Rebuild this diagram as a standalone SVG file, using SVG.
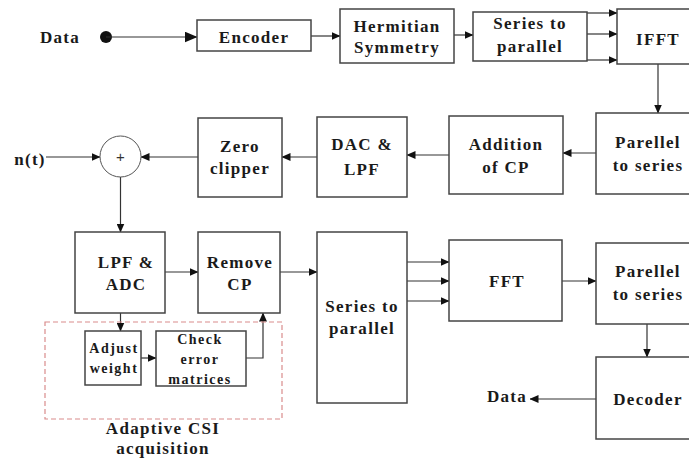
<svg xmlns="http://www.w3.org/2000/svg" width="689" height="458" viewBox="0 0 689 458">
<style>
.box{fill:#fff;stroke:#444;stroke-width:1.5}
.t{font-family:"Liberation Serif","DejaVu Serif",serif;font-weight:700;font-size:17px;letter-spacing:1.3px;fill:#1a1a1a;text-anchor:middle}
.s{font-size:14px;letter-spacing:1.5px}
.ln{fill:none;stroke:#333;stroke-width:1.2}
</style>
<defs>
<marker id="ah" markerWidth="9" markerHeight="8" refX="8.5" refY="4" orient="auto" markerUnits="userSpaceOnUse">
<path d="M0,0 L9,4 L0,8 Z" fill="#111"/>
</marker>
<marker id="ahL" markerWidth="13" markerHeight="11" refX="12.5" refY="5.5" orient="auto" markerUnits="userSpaceOnUse">
<path d="M0,0 L13,5.5 L0,11 Z" fill="#111"/>
</marker>
</defs>
<rect width="689" height="458" fill="#fff"/>

<g id="connectors">
<circle cx="106" cy="37" r="6" fill="#111"/>
<line class="ln" x1="106" y1="37" x2="197" y2="37" marker-end="url(#ahL)"/>
<line class="ln" x1="311" y1="36" x2="340" y2="36" marker-end="url(#ah)"/>
<line class="ln" x1="454" y1="35" x2="473" y2="35" marker-end="url(#ah)"/>
<line class="ln" x1="587" y1="13" x2="617" y2="13" marker-end="url(#ah)"/>
<line class="ln" x1="587" y1="34" x2="617" y2="34" marker-end="url(#ah)"/>
<line class="ln" x1="587" y1="60" x2="617" y2="60" marker-end="url(#ah)"/>
<line class="ln" x1="658" y1="64" x2="658" y2="113" marker-end="url(#ah)"/>
<line class="ln" x1="596" y1="153" x2="563" y2="153" marker-end="url(#ah)"/>
<line class="ln" x1="449" y1="155" x2="407" y2="155" marker-end="url(#ah)"/>
<line class="ln" x1="317" y1="157" x2="282" y2="157" marker-end="url(#ah)"/>
<line class="ln" x1="198" y1="157" x2="141" y2="157" marker-end="url(#ah)"/>
<line class="ln" x1="46" y1="157" x2="100" y2="157" marker-end="url(#ah)"/>
<line class="ln" x1="120.5" y1="177" x2="120.5" y2="232" marker-end="url(#ah)"/>
<line class="ln" x1="165" y1="272" x2="198" y2="272" marker-end="url(#ah)"/>
<line class="ln" x1="280" y1="272" x2="317" y2="272" marker-end="url(#ah)"/>
<line class="ln" x1="120.5" y1="313" x2="120.5" y2="331" marker-end="url(#ah)"/>
<line class="ln" x1="141" y1="358" x2="156" y2="358" marker-end="url(#ah)"/>
<polyline class="ln" points="246,358 263,358 263,313" marker-end="url(#ah)"/>
<line class="ln" x1="407" y1="262" x2="449" y2="262" marker-end="url(#ah)"/>
<line class="ln" x1="407" y1="281" x2="449" y2="281" marker-end="url(#ah)"/>
<line class="ln" x1="407" y1="301" x2="449" y2="301" marker-end="url(#ah)"/>
<line class="ln" x1="562" y1="281" x2="596" y2="281" marker-end="url(#ah)"/>
<line class="ln" x1="647" y1="324" x2="647" y2="357" marker-end="url(#ah)"/>
<line class="ln" x1="596" y1="399" x2="530" y2="399" marker-end="url(#ah)"/>
</g>

<g id="csi-group">
<rect x="45" y="322" width="237" height="97" fill="none" stroke="#d98c8c" stroke-width="1.2" stroke-dasharray="5,3"/>
<text class="t" x="163" y="434">Adaptive CSI</text>
<text class="t" x="163" y="454">acquisition</text>
</g>

<g id="data-in"><text class="t" x="60" y="43">Data</text></g>
<g id="encoder"><rect class="box" x="197" y="20" width="114" height="31"/><text class="t" x="254" y="43">Encoder</text></g>
<g id="hermitian"><rect class="box" x="340" y="9" width="114" height="54"/><text class="t" x="397" y="32">Hermitian</text><text class="t" x="397" y="53">Symmetry</text></g>
<g id="s2p-tx"><rect class="box" x="473" y="12" width="114" height="49"/><text class="t" x="530" y="29">Series to</text><text class="t" x="530" y="52">parallel</text></g>
<g id="ifft"><rect class="box" x="617" y="9" width="80" height="55"/><text class="t" x="658" y="45">IFFT</text></g>
<g id="p2s-tx"><rect class="box" x="596" y="113" width="100" height="81"/><text class="t" x="648" y="148">Parellel</text><text class="t" x="648" y="171">to series</text></g>
<g id="add-cp"><rect class="box" x="449" y="116" width="114" height="78"/><text class="t" x="506" y="150">Addition</text><text class="t" x="506" y="173">of CP</text></g>
<g id="dac"><rect class="box" x="317" y="117" width="90" height="80"/><text class="t" x="362" y="150">DAC &amp;</text><text class="t" x="362" y="175">LPF</text></g>
<g id="zero-clipper"><rect class="box" x="198" y="118" width="84" height="79"/><text class="t" x="240" y="152">Zero</text><text class="t" x="240" y="174">clipper</text></g>
<g id="adder"><circle cx="120.5" cy="156.5" r="20.5" fill="#fff" stroke="#555" stroke-width="1"/><text x="120.5" y="162" font-family="Liberation Sans, Arial, sans-serif" font-size="15" fill="#333" text-anchor="middle">+</text></g>
<g id="noise"><text class="t" x="30" y="165">n(t)</text></g>
<g id="lpf-adc"><rect class="box" x="75" y="232" width="90" height="81"/><text class="t" x="126" y="268">LPF &amp;</text><text class="t" x="126" y="290">ADC</text></g>
<g id="remove-cp"><rect class="box" x="198" y="232" width="82" height="81"/><text class="t" x="240" y="268">Remove</text><text class="t" x="240" y="290">CP</text></g>
<g id="adjust"><rect class="box" x="85" y="331" width="56" height="54"/><text class="t s" x="114" y="353">Adjust</text><text class="t s" x="114" y="373">weight</text></g>
<g id="check"><rect class="box" x="156" y="331" width="90" height="55"/><text class="t s" x="200" y="344">Check</text><text class="t s" x="200" y="364">error</text><text class="t s" x="200" y="384">matrices</text></g>
<g id="s2p-rx"><rect class="box" x="317" y="232" width="90" height="171"/><text class="t" x="362" y="312">Series to</text><text class="t" x="362" y="334">parallel</text></g>
<g id="fft"><rect class="box" x="449" y="240" width="113" height="81"/><text class="t" x="507" y="287">FFT</text></g>
<g id="p2s-rx"><rect class="box" x="596" y="243" width="100" height="81"/><text class="t" x="648" y="277">Parellel</text><text class="t" x="648" y="300">to series</text></g>
<g id="decoder"><rect class="box" x="596" y="357" width="100" height="82"/><text class="t" x="648" y="405">Decoder</text></g>
<g id="data-out"><text class="t" x="507" y="402">Data</text></g>
</svg>
